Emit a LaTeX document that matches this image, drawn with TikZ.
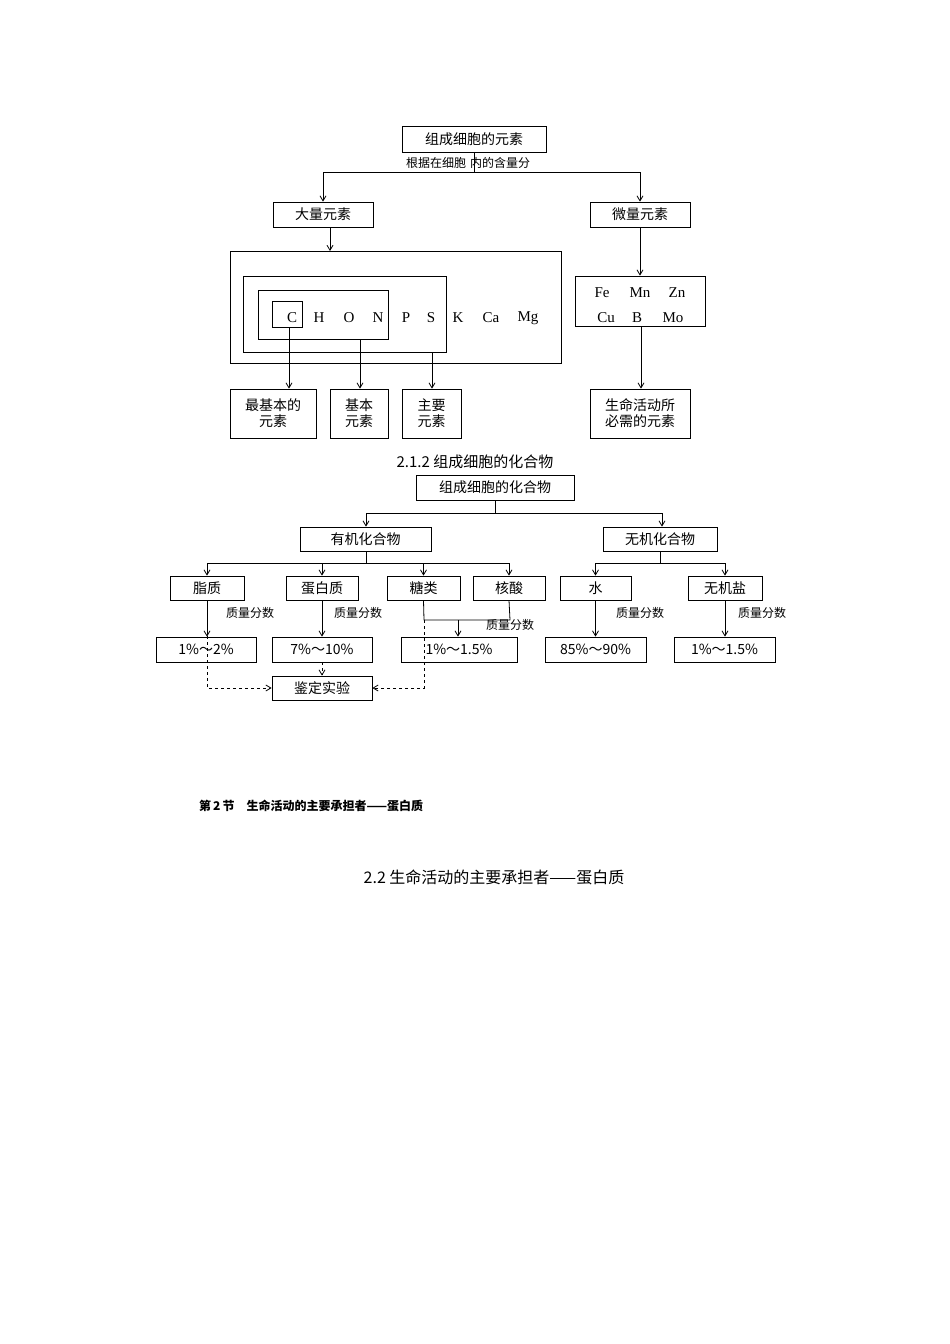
\documentclass[tikz,border=0pt]{standalone}
\usepackage{fontspec}
\setmainfont{Liberation Serif}
\newfontfamily\cjk{Noto Sans CJK SC}
\usetikzlibrary{arrows.meta}
\begin{document}
\begin{tikzpicture}[x=1pt,y=-1pt,
  bx/.style={draw,thick,inner sep=0pt},
  t/.style={font=\cjk\fontsize{14}{16}\selectfont,inner sep=0pt},
  s/.style={font=\cjk\fontsize{12}{14}\selectfont,inner sep=0pt},
  el/.style={font=\fontsize{15}{17}\selectfont,inner sep=0pt},
  ar/.style={thick,-{Straight Barb[length=5pt,width=6pt]}},
  da/.style={thick,dashed,-{Straight Barb[length=5pt,width=6pt]}}]
\useasboundingbox (0,0) rectangle (950,1344);
\def\B#1#2#3#4#5{\draw[thick] (#2,#3) rectangle (#4,#5); \path (#2,#3) -- node[t,name=#1]{} (#4,#5);}
% part 1
\node[bx,minimum width=144,minimum height=26,t] (top) at (474,139) {组成细胞的元素};
\node[s] (lab) at (468,163) {根据在细胞\hspace{4pt}内的含量分};
\coordinate (j1) at (474,172);
\draw[thick] (top.south) -- (j1);
\node[bx,minimum width=100,minimum height=25,t] (big) at (323,214.5) {大量元素};
\node[bx,minimum width=100,minimum height=25,t] (small) at (640,214.5) {微量元素};
\draw[ar] (j1) -| (big.north);
\draw[ar] (j1) -| (small.north);
\draw[thick] (230,251) rectangle (561,363);
\draw[thick] (243,276) rectangle (446,352);
\draw[thick] (258,290) rectangle (388,339);
\draw[thick] (272,301) rectangle (302,327);
\coordinate (bt) at (330,251);
\draw[ar] (330,227) -- (bt);
\foreach \x/\l in {292/C,319/H,349/O,378/N,406/P,431/S,458/K,491/Ca,528/Mg}
  \node[el] (e\l) at (\x,318) {\l};
\node[bx,minimum width=130,minimum height=50] (fe) at (640,301) {};
\node[el] (fe1) at (602,293) {Fe}; \node[el] (mn) at (640,293) {Mn}; \node[el] (zn) at (677,293) {Zn};
\node[el] (cu) at (606,318) {Cu}; \node[el] (b) at (637,318) {B}; \node[el] (mo) at (673,318) {Mo};
\draw[ar] (small.south) -- (fe.north -| small.south);
\node[bx,minimum width=86,minimum height=49,t,align=center] (b1) at (273,413.5) {最基本的\\元素};
\node[bx,minimum width=58,minimum height=49,t,align=center] (b2) at (359,413.5) {基本\\元素};
\node[bx,minimum width=59,minimum height=49,t,align=center] (b3) at (431.5,413.5) {主要\\元素};
\node[bx,minimum width=100,minimum height=49,t,align=center] (b4) at (640,413.5) {生命活动所\\必需的元素};
\draw[ar] (289,327) -- (b1.north -| 289,0);
\draw[ar] (360,339) -- (b2.north -| 360,0);
\draw[ar] (432,352) -- (b3.north -| 432,0);
\draw[ar] (fe.south -| 641,0) -- (b4.north -| 641,0);
% part 2
\node[font=\cjk\fontsize{15}{17}\selectfont] (h2) at (475,462) {2.1.2 组成细胞的化合物};
\node[bx,minimum width=158,minimum height=25,t] (cp) at (495,487.5) {组成细胞的化合物};
\node[bx,minimum width=131,minimum height=24,t] (org) at (365.5,539) {有机化合物};
\node[bx,minimum width=114,minimum height=24,t] (ino) at (660,539) {无机化合物};
\coordinate (j2) at (495,513);
\draw[thick] (cp.south) -- (j2);
\draw[ar] (j2) -| (org.north -| 366,0);
\draw[ar] (j2) -| (ino.north -| 662,0);
\foreach \n/\x/\w/\l in {zz/207/74/脂质,db/322/72/蛋白质,tl/423.5/73/糖类,hs/509/72/核酸,sh/595.5/71/水,wj/725/74/无机盐}
  \node[bx,minimum width=\w,minimum height=24,t] (\n) at (\x,588) {\l};
\coordinate (j3) at (366,563); \coordinate (j4) at (660,563);
\draw[thick] (org.south -| j3) -- (j3);
\draw[thick] (ino.south -| j4) -- (j4);
\foreach \n in {zz,db,tl,hs} \draw[ar] (j3) -| (\n.north);
\foreach \n in {sh,wj} \draw[ar] (j4) -| (\n.north);
\foreach \n/\x/\w/\l in {p1/206/100/1\%～2\%,p2/322/100/7\%～10\%,p3/459/116/1\%～1.5\%,p4/595.5/101/85\%～90\%,p5/724.5/101/1\%～1.5\%}
  \node[bx,minimum width=\w,minimum height=25,t] (\n) at (\x,649.5) {\l};
\node[bx,minimum width=100,minimum height=24,t] (jd) at (322,688) {鉴定实验};
\draw[ar] (zz.south) -- (p1.north -| zz.south);
\draw[ar] (db.south) -- (p2.north -| db.south);
\draw[ar] (sh.south) -- (p4.north -| sh.south);
\draw[ar] (wj.south) -- (p5.north -| wj.south);
\coordinate (j5) at (424,620); \coordinate (j6) at (510,620);
\draw[thick] (tl.south) -- (j5) -- (j6) -- (hs.south);
\draw[ar] (458,620) -- (p3.north -| 458,0);
\draw[da] (zz.south) |- (jd.west);
\draw[da] (j5) |- (jd.east);
\draw[da] (p2.south) -- (jd.north);
\foreach \x/\y in {250/613,358/613,510/625,640/613,762/613}
  \node[s] at (\x,\y) {质量分数};
% texts
\node[font=\cjk\bfseries\fontsize{12}{14}\selectfont,anchor=west,inner sep=0pt] (sec) at (199,806) {第\,2\,节\quad 生命活动的主要承担者——蛋白质};
\node[font=\cjk\fontsize{16}{18}\selectfont,inner sep=0pt] (h3) at (494,877) {2.2 生命活动的主要承担者——蛋白质};
\end{tikzpicture}
\end{document}
